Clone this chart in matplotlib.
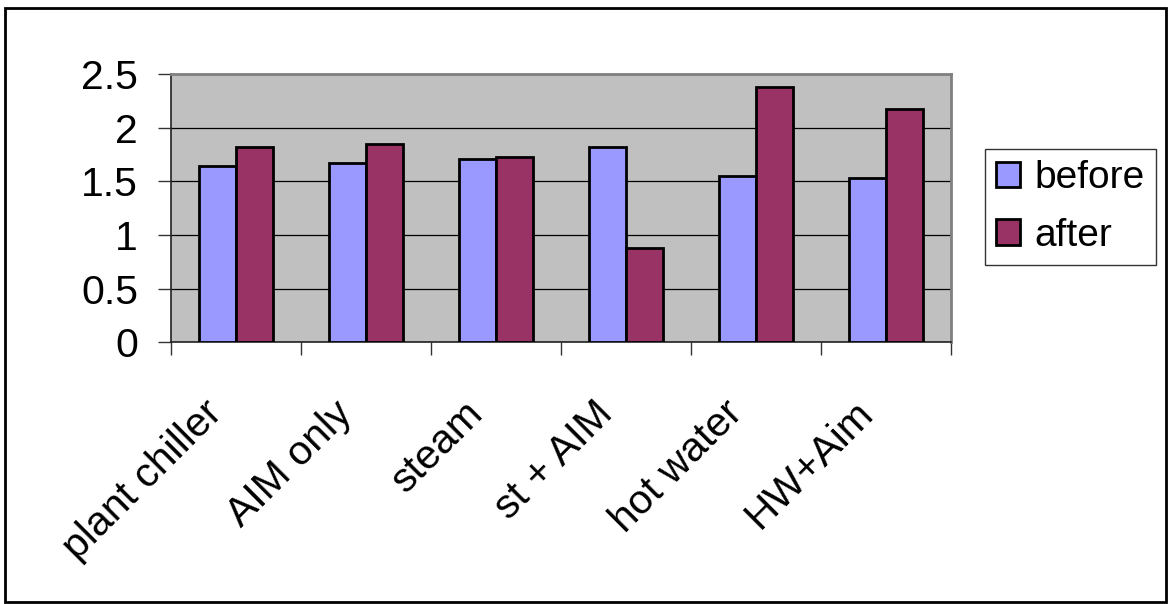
import matplotlib
matplotlib.use("Agg")
import matplotlib.pyplot as plt
import matplotlib.transforms as mtrans
from matplotlib.patches import Rectangle
import numpy as np

categories = ["plant chiller", "AIM only", "steam", "st + AIM", "hot water", "HW+Aim"]
before = [1.64, 1.67, 1.71, 1.82, 1.55, 1.53]
after = [1.82, 1.85, 1.73, 0.88, 2.38, 2.17]
yticks = [0, 0.5, 1, 1.5, 2, 2.5]
ytick_labels = ["0", "0.5", "1", "1.5", "2", "2.5"]

plt.rcParams['font.family'] = ['Liberation Sans', 'DejaVu Sans']
FS = 29.5
LFS = 28

fig = plt.figure(figsize=(11.68, 6.04), dpi=100)
W, H = 1168, 604
ax = fig.add_axes([170.7 / W, 1 - 342.3 / H, (950.7 - 170.7) / W, (342.3 - 74) / H])
ax.set_facecolor("#C0C0C0")

x = np.arange(len(categories))
bw = 1 / 3.5
ax.bar(x - bw / 2, before, bw, color="#9999FF", edgecolor="black", linewidth=2.0, label="before", zorder=3)
ax.bar(x + bw / 2, after, bw, color="#993366", edgecolor="black", linewidth=2.0, label="after", zorder=3)

ax.set_xlim(-0.5, len(categories) - 0.5)
ax.set_ylim(0, 2.5)
ax.set_yticks(yticks)
ax.set_yticklabels(ytick_labels, fontsize=FS)
ax.yaxis.grid(True, color="black", linewidth=0.9, zorder=1)
ax.set_axisbelow(True)

# x ticks at category boundaries
ax.set_xticks(np.arange(-0.5, len(categories), 1.0))
ax.set_xticklabels([])
ax.tick_params(axis="x", direction="out", length=9.5, width=1.0, color="#333333")
ax.tick_params(axis="y", direction="out", length=9.5, width=1.0, color="#333333", pad=14)

for s in ["top", "right"]:
    ax.spines[s].set_color("#808080")
    ax.spines[s].set_linewidth(2)
for s in ["left", "bottom"]:
    ax.spines[s].set_color("#222222")
    ax.spines[s].set_linewidth(1.2)

# rotated category labels
offset = mtrans.ScaledTranslation(-19 / 100, -65 / 100, fig.dpi_scale_trans)
trans = ax.get_xaxis_transform() + offset
for i, c in enumerate(categories):
    ax.text(x[i], 0, c, transform=trans, rotation=45, ha="right", va="center",
            rotation_mode="anchor", fontsize=FS)

leg = fig.legend(loc="center", bbox_to_anchor=(985 / W, 1 - 273 / H, 171 / W, 132 / H),
                 fontsize=LFS, frameon=True, fancybox=False, shadow=False,
                 handlelength=0.62, handleheight=0.62, handletextpad=0.36,
                 borderpad=0.3, labelspacing=0.55, borderaxespad=0)
leg.get_frame().set_edgecolor("black")
leg.get_frame().set_linewidth(1.0)

fig.patches.append(Rectangle((5 / W, 2 / H), (1166 - 5) / W, (596.5 - 2) / H, transform=fig.transFigure,
                             fill=False, edgecolor="black", linewidth=2))

fig.savefig("out.png", dpi=100)
